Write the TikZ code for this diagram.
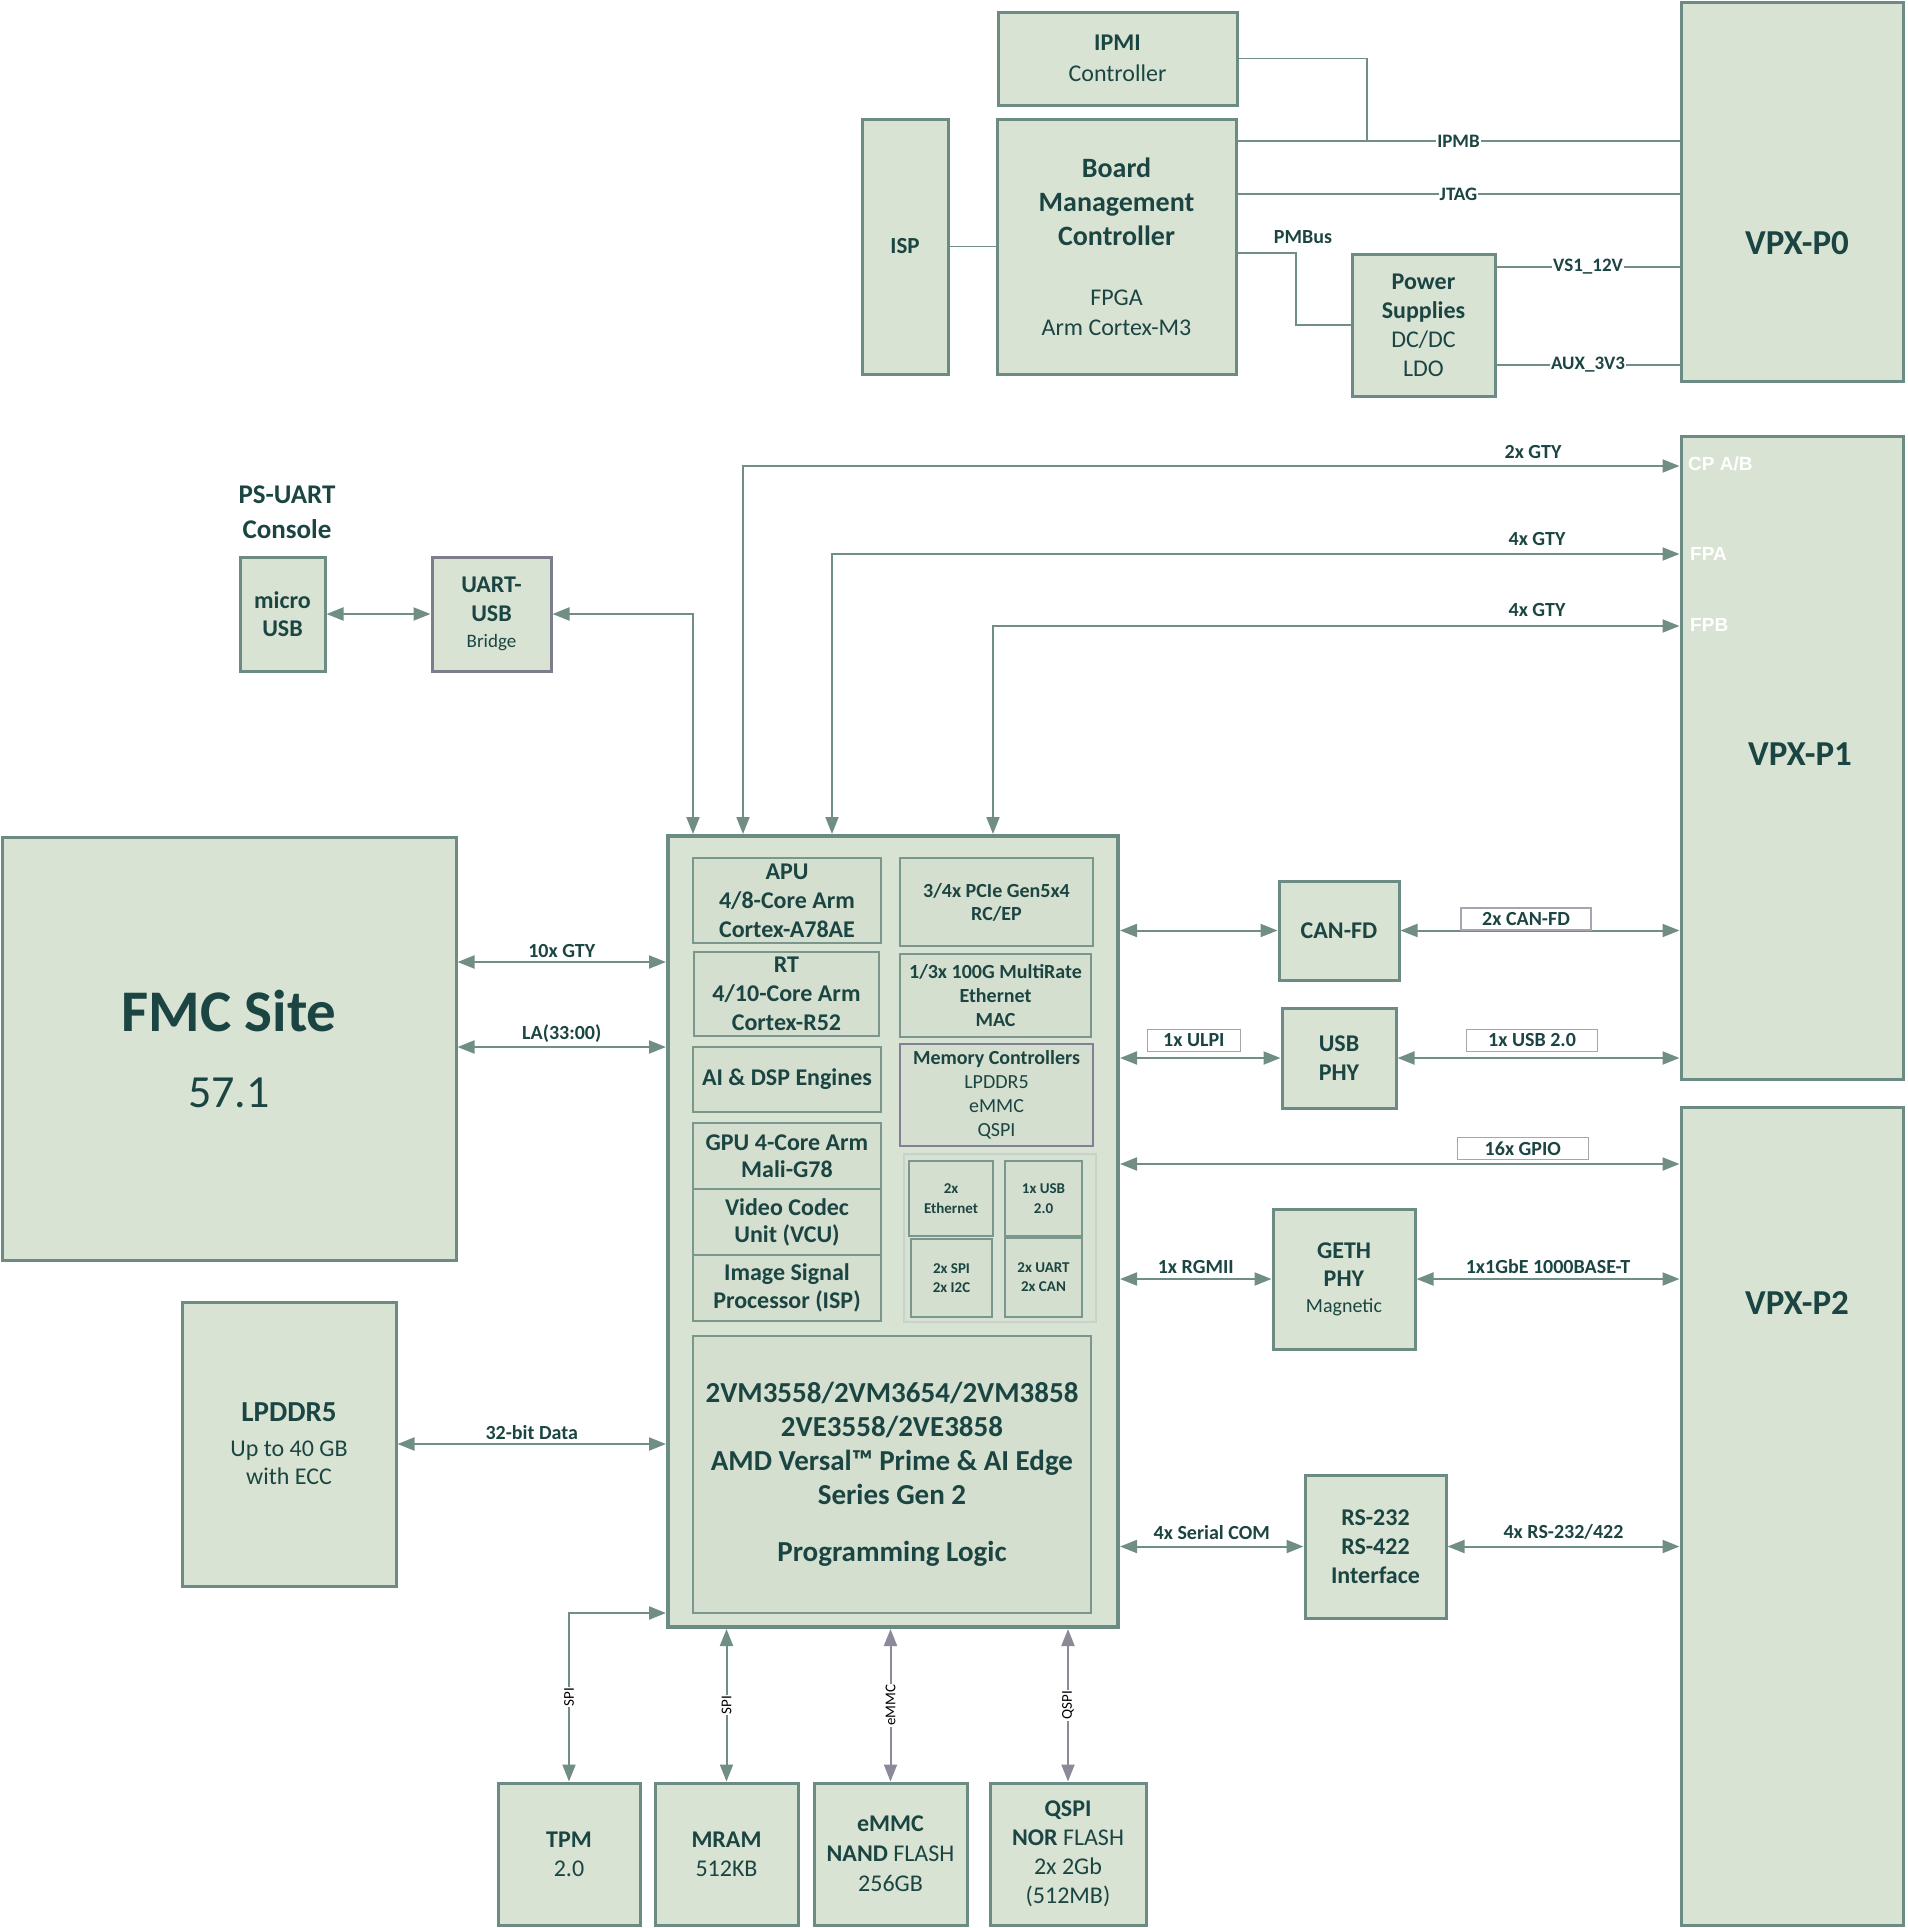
\documentclass[tikz,border=0pt]{standalone}
\usepackage{fontspec}
\setmainfont{Carlito}
\newfontfamily\arialbd{Liberation Sans}
\usetikzlibrary{arrows.meta}
\definecolor{boxfill}{RGB}{217,227,212}
\definecolor{boxline}{RGB}{108,139,130}
\definecolor{subfill}{RGB}{213,223,207}
\definecolor{subline}{RGB}{122,150,141}
\definecolor{memline}{RGB}{128,128,150}
\definecolor{grpfill}{RGB}{216,226,212}
\definecolor{grpline}{RGB}{200,210,200}
\definecolor{bridgeline}{RGB}{125,125,140}
\definecolor{linec}{RGB}{112,141,134}
\definecolor{pline}{RGB}{138,138,152}
\definecolor{tagline}{RGB}{165,165,175}
\definecolor{txt}{RGB}{27,69,66}
\newcommand{\fsz}[2]{\fontsize{#1}{#2}\selectfont}

\begin{document}
\begin{tikzpicture}[x=1pt,y=-1pt,>={Triangle[length=17pt,width=13pt]},
  blk/.style={draw=boxline,fill=boxfill,line width=3pt,text=txt,align=center,inner sep=2pt},
  inr/.style={draw=subline,fill=subfill,line width=2pt,text=txt,align=center,inner sep=2pt},
  link/.style={draw=linec,line width=2pt},
  plink/.style={draw=pline,line width=2pt},
  wire/.style={draw=linec,line width=1.5pt},
  lbl/.style={text=txt,font=\fsz{20}{24}\bfseries,inner sep=1pt},
  onlbl/.style={lbl,fill=white,font=\fsz{19}{23}\bfseries},
  tagbox/.style={lbl,draw=tagline,fill=white,line width=1.5pt,minimum height=22,inner sep=0pt,anchor=south},
  vlbl/.style={fill=white,text=black,font=\fsz{15}{18},rotate=90,inner sep=1pt},
  port/.style={text=white,font=\arialbd\fsz{19}{23}\bfseries,anchor=west,inner sep=0pt},
  vpxt/.style={text=txt,font=\fsz{35}{42}\bfseries}]
\useasboundingbox (0,0) rectangle (1907,1928);

\node[blk,minimum width=239,minimum height=93,font=\fsz{24}{31}] (ipmi) at (1117.5,58.5) {\textbf{IPMI}\\Controller};
\node[blk,minimum width=239,minimum height=255,font=\fsz{28}{34}] (bmc) at (1116.5,246.5) {\textbf{Board}\\\textbf{Management}\\\textbf{Controller}\\[26pt]{\fsz{24}{30}FPGA}\\[-4pt]{\fsz{24}{30}Arm Cortex-M3}};
\node[blk,minimum width=86,minimum height=255,font=\fsz{23}{28}\bfseries] (isp) at (905,246.5) {ISP};
\node[blk,minimum width=143,minimum height=142,font=\fsz{24}{29}] (psu) at (1423.5,325) {\textbf{Power}\\\textbf{Supplies}\\DC/DC\\LDO};
\node[blk,minimum width=222,minimum height=379] (vpx0) at (1792,191.5) {};
\node[blk,minimum width=222,minimum height=643] (vpx1) at (1792,757.5) {};
\node[blk,minimum width=222,minimum height=818] (vpx2) at (1792,1516) {};
\node[vpxt] (p0txt) at (1797,243) {VPX-P0};
\node[vpxt] (p1txt) at (1800,754) {VPX-P1};
\node[vpxt] (p2txt) at (1797,1303) {VPX-P2};

\node[align=center,text=txt,font=\fsz{27}{35}\bfseries] (psuart) at (287,512) {PS-UART\\Console};
\node[blk,minimum width=85,minimum height=114,font=\fsz{24}{28}\bfseries] (musb) at (282.5,614) {micro\\USB};
\node[blk,draw=bridgeline,minimum width=119,minimum height=114,font=\fsz{24}{29}] (bridge) at (491.5,614) {\textbf{UART-}\\\textbf{USB}\\[-3pt]{\fsz{19}{23}Bridge}};
\node[blk,minimum width=454,minimum height=423,font=\fsz{59}{76}] (fmc) at (229,1048.5) {\textbf{FMC Site}\\{\fsz{46}{55}57.1}};
\node[blk,minimum width=214,minimum height=284,font=\fsz{24}{29}] (ddr) at (289,1444) {{\fsz{29}{35}\bfseries LPDDR5}\\[6pt]Up to 40 GB\\[-1pt]with ECC};

\node[blk,line width=4pt,minimum width=450,minimum height=791] (soc) at (893,1231.5) {};
\node[inr,minimum width=188,minimum height=85,font=\fsz{24}{29}\bfseries] (apu) at (787,900.5) {APU\\4/8-Core Arm\\Cortex-A78AE};
\node[inr,minimum width=185,minimum height=84,font=\fsz{24}{29}\bfseries] (rt) at (786.5,994) {RT\\4/10-Core Arm\\Cortex-R52};
\node[inr,minimum width=188,minimum height=65,font=\fsz{24}{29}\bfseries] (aie) at (787,1079.5) {AI \& DSP Engines};
\node[inr,minimum width=188,minimum height=66,font=\fsz{24}{27}\bfseries] (gpu) at (787,1156) {GPU 4-Core Arm\\Mali-G78};
\node[inr,minimum width=188,minimum height=66,font=\fsz{24}{27}\bfseries] (vcu) at (787,1222) {Video Codec\\Unit (VCU)};
\node[inr,minimum width=188,minimum height=66,font=\fsz{24}{28}\bfseries] (ispp) at (787,1288) {Image Signal\\Processor (ISP)};
\node[inr,minimum width=193,minimum height=88,font=\fsz{20}{23}\bfseries] (pcie) at (996.5,902) {3/4x PCIe Gen5x4\\RC/EP};
\node[inr,minimum width=191,minimum height=83,font=\fsz{20}{24}\bfseries] (mac) at (995.5,995.5) {1/3x 100G MultiRate\\Ethernet\\MAC};
\node[inr,draw=memline,minimum width=193,minimum height=102,font=\fsz{20}{24}] (mem) at (996.5,1095) {\textbf{Memory Controllers}\\LPDDR5\\eMMC\\QSPI};
\node[inr,draw=grpline,fill=grpfill,line width=1.5pt,minimum width=192,minimum height=168] (per) at (1000,1238) {};
\node[inr,line width=1.5pt,minimum width=84,minimum height=75,font=\fsz{15}{20}\bfseries] (eth) at (951,1198.5) {2x\\Ethernet};
\node[inr,line width=1.5pt,minimum width=77,minimum height=75,font=\fsz{15}{20}\bfseries] (usb2) at (1043.5,1198.5) {1x USB\\2.0};
\node[inr,line width=1.5pt,minimum width=81,minimum height=78,font=\fsz{15}{19}\bfseries] (spi) at (951.5,1278) {2x SPI\\2x I2C};
\node[inr,line width=1.5pt,minimum width=77,minimum height=79,font=\fsz{15}{19}\bfseries] (uart) at (1043.5,1277.5) {2x UART\\2x CAN};
\node[inr,line width=1.5pt,minimum width=398,minimum height=277,font=\fsz{29}{34}\bfseries] (pl) at (892,1474.5) {2VM3558/2VM3654/2VM3858\\2VE3558/2VE3858\\AMD Versal™ Prime \& AI Edge\\Series Gen 2\\[23pt]Programming Logic};

\node[blk,minimum width=120,minimum height=99,font=\fsz{24}{29}\bfseries] (canfd) at (1339,930.5) {CAN-FD};
\node[blk,minimum width=114,minimum height=100,font=\fsz{24}{29}\bfseries] (usbphy) at (1339,1058) {USB\\PHY};
\node[blk,minimum width=142,minimum height=140,font=\fsz{24}{28}] (geth) at (1344,1279) {\textbf{GETH}\\\textbf{PHY}\\[-2pt]{\fsz{20}{24}Magnetic}};
\node[blk,minimum width=141,minimum height=143,font=\fsz{24}{29}\bfseries] (rs) at (1375.5,1546.5) {RS-232\\RS-422\\Interface};
\node[blk,minimum width=142,minimum height=142,font=\fsz{24}{29}] (tpm) at (569,1854) {\textbf{TPM}\\2.0};
\node[blk,minimum width=143,minimum height=142,font=\fsz{24}{29}] (mram) at (726.5,1854) {\textbf{MRAM}\\512KB};
\node[blk,minimum width=153,minimum height=142,font=\fsz{24}{30}] (emmc) at (890.5,1854) {\textbf{eMMC}\\\textbf{NAND} FLASH\\256GB};
\node[blk,minimum width=156,minimum height=142,font=\fsz{24}{29}] (qspi) at (1068,1854) {\textbf{QSPI}\\\textbf{NOR} FLASH\\2x 2Gb\\(512MB)};

\coordinate (ipmbc) at (1367,141);
\coordinate (jtagc) at (1459,194);
\coordinate (pmbc) at (1296,253);
\coordinate (v12c) at (1587,267);
\coordinate (v33c) at (1587,365);
\coordinate (uartc) at (693,614);
\coordinate (cpc) at (743,466);
\coordinate (fpac) at (832,554);
\coordinate (fpbc) at (993,626);
\coordinate (gtyc) at (560,962);
\coordinate (lac) at (560,1047);
\coordinate (gpioc) at (1400,1164);
\coordinate (tpmc) at (569,1613);

\draw[wire] (ipmi.east) -| (ipmbc);
\draw[wire] (bmc.east |- ipmbc) -- node[onlbl]{IPMB} (vpx0.west |- ipmbc);
\draw[wire] (bmc.east |- jtagc) -- node[onlbl]{JTAG} (vpx0.west |- jtagc);
\draw[wire] (isp.east) -- (bmc.west |- isp.east);
\draw[wire] (bmc.east |- pmbc) -- (pmbc) |- (psu.west);
\node[lbl] (pmbtxt) at (1303,237) {PMBus};
\draw[wire] (psu.east |- v12c) -- node[onlbl]{VS1\_12V} (vpx0.west |- v12c);
\draw[wire] (psu.east |- v33c) -- node[onlbl]{AUX\_3V3} (vpx0.west |- v33c);

\draw[link,<->] (musb.east) -- (bridge.west);
\draw[link,<->] (bridge.east) -| (soc.north -| uartc);
\draw[link,<->] (vpx1.west |- cpc) -| (soc.north -| cpc);
\draw[link,<->] (vpx1.west |- fpac) -| (soc.north -| fpac);
\draw[link,<->] (vpx1.west |- fpbc) -| (soc.north -| fpbc);
\node[lbl] (gty2) at (1533,452) {2x GTY};
\node[lbl] (gty4a) at (1537,539) {4x GTY};
\node[lbl] (gty4b) at (1537,610) {4x GTY};
\node[port] (cpab) at (1688,464) {CP A/B};
\node[port] (fpa) at (1690,554) {FPA};
\node[port] (fpb) at (1690,625) {FPB};

\draw[link,<->] (fmc.east |- gtyc) -- node[lbl,above=2pt]{10x GTY} (soc.west |- gtyc);
\draw[link,<->] (fmc.east |- lac) -- node[lbl,above=2pt]{LA(33:00)} (soc.west |- lac);
\draw[link,<->] (ddr.east) -- node[lbl,above=2pt]{32-bit Data} (soc.west |- ddr);

\draw[link,<->] (soc.east |- canfd) -- (canfd.west);
\draw[link,<->] (canfd.east) -- node[tagbox,pos=0.45,minimum width=130]{2x CAN-FD} (vpx1.west |- canfd);
\draw[link,<->] (soc.east |- usbphy) -- node[tagbox,pos=0.46,above=6pt,minimum width=93]{1x ULPI} (usbphy.west);
\draw[link,<->] (usbphy.east) -- node[tagbox,pos=0.477,above=6pt,minimum width=131]{1x USB 2.0} (vpx1.west |- usbphy);
\draw[link,<->] (soc.east |- gpioc) -- node[tagbox,pos=0.72,above=4pt,minimum width=131]{16x GPIO} (vpx2.west |- gpioc);
\draw[link,<->] (soc.east |- geth) -- node[lbl,above=3pt]{1x RGMII} (geth.west);
\draw[link,<->] (geth.east) -- node[lbl,above=3pt]{1x1GbE 1000BASE-T} (vpx2.west |- geth);
\draw[link,<->] (soc.east |- rs) -- node[lbl,above=5pt]{4x Serial COM} (rs.west);
\draw[link,<->] (rs.east) -- node[lbl,above=5pt]{4x RS-232/422} (vpx2.west |- rs);

\draw[link,<->] (soc.west |- tpmc) -- (tpm.north |- tpmc) -- node[vlbl]{SPI} (tpm.north);
\draw[link,<->] (soc.south -| mram) -- node[vlbl]{SPI} (mram.north);
\draw[plink,<->] (soc.south -| emmc) -- node[vlbl]{eMMC} (emmc.north);
\draw[plink,<->] (soc.south -| qspi) -- node[vlbl]{QSPI} (qspi.north);
\end{tikzpicture}
\end{document}
